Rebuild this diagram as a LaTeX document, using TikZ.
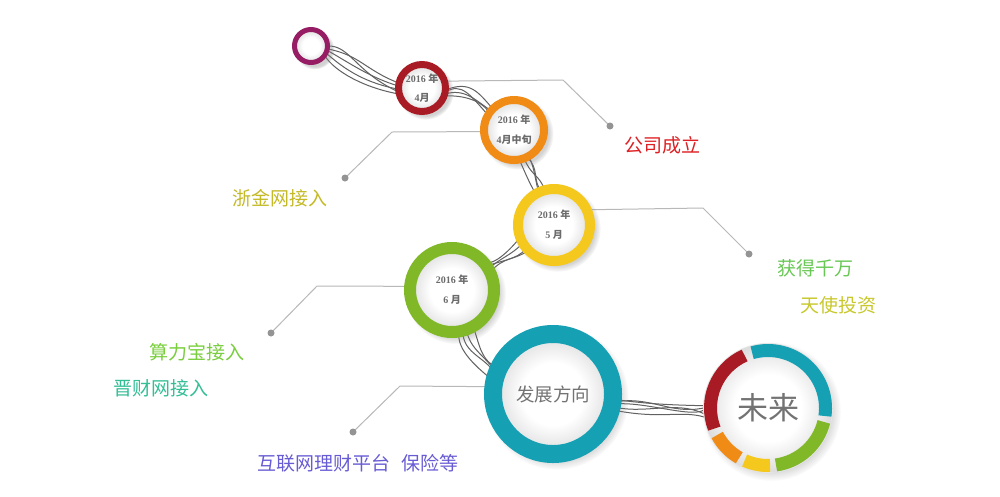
\documentclass[tikz,border=0pt]{standalone}
\usepackage{fontspec}
\setmainfont{Liberation Serif}
\newfontfamily\cjk{Noto Sans CJK SC}
\usetikzlibrary{shadows,calc}
\definecolor{cpurple}{RGB}{150,28,100}
\definecolor{cred}{RGB}{168,26,36}
\definecolor{corange}{RGB}{240,140,22}
\definecolor{cyellow}{RGB}{245,200,30}
\definecolor{cgreen}{RGB}{128,184,40}
\definecolor{cteal}{RGB}{22,160,180}
\definecolor{tred}{RGB}{222,32,36}
\definecolor{tolive}{RGB}{196,186,40}
\definecolor{tgreen}{RGB}{104,200,84}
\definecolor{tyel}{RGB}{200,200,44}
\definecolor{tlime}{RGB}{120,206,60}
\definecolor{tteal}{RGB}{52,190,150}
\definecolor{tviolet}{RGB}{104,92,212}
\pgfdeclareradialshading{inshade}{\pgfpoint{0bp}{0bp}}{color(0bp)=(white); color(13bp)=(white); color(21bp)=(black!9); color(25bp)=(black!14); color(50bp)=(black!14)}
\pgfdeclarelayer{back}
\pgfsetlayers{back,main}
\tikzset{
  ring/.style={circle, draw=#1, inner sep=0pt, outer sep=0pt, shade, shading=inshade,
    circular drop shadow={shadow xshift=3pt, shadow yshift=-3pt, shadow scale=1.2, opacity=0.35},
    text=black!58, align=center, font=\fontsize{10}{12}\selectfont\bfseries},
  wire/.style={draw=black!62, line width=1pt},
  leader/.style={draw=black!28, line width=1pt},
  dotn/.style={circle, fill=black!42, inner sep=0pt, minimum size=7pt},
  lab/.style={font=\cjk\fontsize{19}{22}\selectfont, inner sep=0pt},
  seg/.style={line width=13pt},
}
\begin{document}
\begin{tikzpicture}[x=1pt,y=-1pt]
\useasboundingbox (0,0) rectangle (1000,496);
% circles
\node[ring=cpurple, line width=5pt, minimum size=33pt] (c1) at (311,46) {};
\node[ring=cred, line width=7pt, minimum size=47pt] (c2) at (422,88) {2016 {\cjk 年}\\[7pt]4{\cjk 月}};
\node[ring=corange, line width=8pt, minimum size=60pt] (c3) at (514,130) {2016 {\cjk 年}\\[8pt]4{\cjk 月中旬}};
\node[ring=cyellow, line width=10pt, minimum size=72pt] (c4) at (554,225) {2016 {\cjk 年}\\[8pt]5 {\cjk 月}};
\node[ring=cgreen, line width=12pt, minimum size=84pt] (c5) at (452,290) {2016 {\cjk 年}\\[8pt]6 {\cjk 月}};
\node[ring=cteal, line width=18pt, minimum size=120pt, font=\cjk\fontsize{18.5}{22}\selectfont, text=black!55] (c6) at (553,394) {发展方向};
\node[circle, inner sep=0pt, outer sep=0pt, minimum size=129pt, draw=black!10, line width=0.8pt, shade, shading=inshade,
  circular drop shadow={shadow xshift=3pt, shadow yshift=-3pt, shadow scale=1.08, opacity=0.3},
  font=\cjk\fontsize{31}{34}\selectfont, text=black!55] (fut) at (768,408) {未来};
\draw[seg, cteal] ($(fut.center)+(352:57.5pt)$) arc[start angle=352, end angle=466, radius=57.5pt];
\draw[seg, cred] ($(fut.center)+(114:57.5pt)$) arc[start angle=114, end angle=201, radius=57.5pt];
\draw[seg, corange] ($(fut.center)+(208:57.5pt)$) arc[start angle=208, end angle=240, radius=57.5pt];
\draw[seg, cyellow] ($(fut.center)+(246:57.5pt)$) arc[start angle=246, end angle=272, radius=57.5pt];
\draw[seg, cgreen] ($(fut.center)+(278:57.5pt)$) arc[start angle=278, end angle=346, radius=57.5pt];
% labels and dots
\node[lab, text=tred] (t1) at (662,145) {公司成立};
\node[lab, text=tolive] (t2) at (280,198) {浙金网接入};
\node[lab, text=tgreen] (t3) at (815,268) {获得千万};
\node[lab, text=tyel] (t4) at (838,305) {天使投资};
\node[lab, text=tlime] (t5) at (197,352) {算力宝接入};
\node[lab, text=tteal] (t6) at (161,388) {晋财网接入};
\node[lab, text=tviolet] (t7) at (358,463) {互联网理财平台\hspace{0.6em}保险等};
\node[dotn] (d1) at (610,126) {};
\node[dotn] (d2) at (345,178) {};
\node[dotn] (d3) at (749,254) {};
\node[dotn] (d4) at (271,333) {};
\node[dotn] (d5) at (353,432) {};
\coordinate (e1) at (563,80);
\coordinate (e2) at (392,132);
\coordinate (e3) at (703,208);
\coordinate (e4) at (317,286);
\coordinate (e5) at (400,386);
\begin{pgfonlayer}{back}
\fill[white] (0,0) rectangle (1000,496);
\draw[leader] (c2.17) -- (e1) -- (d1.center);
\draw[leader] (c3.183) -- (e2) -- (d2.center);
\draw[leader] (c4.25) -- (e3) -- (d3.center);
\draw[leader] (c5.175) -- (e4) -- (d4.center);
\draw[leader] (c6.173) -- (e5) -- (d5.center);
% wires 1-2
\draw[wire] (c1.0) .. controls (350,45) and (355,72) .. (c2.190);
\draw[wire] (c1.-15) .. controls (345,60) and (370,78) .. (c2.175);
\draw[wire] (c1.-25) .. controls (340,65) and (360,82) .. (c2.183);
\draw[wire] (c1.-35) .. controls (335,72) and (365,88) .. (c2.195);
\draw[wire] (c1.-10) .. controls (360,55) and (365,70) .. (c2.168);
% wires 2-3
\draw[wire] (c2.-10) .. controls (462,82) and (470,95) .. (c3.150);
\draw[wire] (c2.-15) .. controls (465,88) and (475,100) .. (c3.140);
\draw[wire] (c2.-20) .. controls (458,95) and (480,98) .. (c3.145);
\draw[wire] (c2.-5) .. controls (470,80) and (478,92) .. (c3.135);
% wires 3-4
\draw[wire] (c3.-60) .. controls (535,170) and (535,180) .. (c4.115);
\draw[wire] (c3.-70) .. controls (530,175) and (540,175) .. (c4.105);
\draw[wire] (c3.-80) .. controls (525,172) and (530,185) .. (c4.120);
\draw[wire] (c3.-65) .. controls (540,168) and (532,182) .. (c4.110);
% wires 4-5
\draw[wire] (c4.210) .. controls (512,255) and (500,258) .. (c5.30);
\draw[wire] (c4.220) .. controls (515,262) and (505,255) .. (c5.25);
\draw[wire] (c4.200) .. controls (510,250) and (495,265) .. (c5.40);
\draw[wire] (c4.225) .. controls (518,258) and (498,262) .. (c5.35);
% wires 5-6
\draw[wire] (c5.-70) .. controls (470,350) and (485,355) .. (c6.160);
\draw[wire] (c5.-80) .. controls (455,350) and (480,370) .. (c6.168);
\draw[wire] (c5.-60) .. controls (480,345) and (480,360) .. (c6.155);
\draw[wire] (c5.-75) .. controls (462,355) and (490,358) .. (c6.163);
% wires 6-fut
\draw[wire] (c6.-8) .. controls (650,395) and (670,415) .. (fut.180);
\draw[wire] (c6.-12) .. controls (645,415) and (675,400) .. (fut.185);
\draw[wire] (c6.-5) .. controls (655,405) and (680,405) .. (fut.178);
\draw[wire] (c6.-15) .. controls (660,420) and (680,410) .. (fut.188);
\draw[wire] (c6.-10) .. controls (640,400) and (690,418) .. (fut.182);
\end{pgfonlayer}
\end{tikzpicture}
\end{document}
